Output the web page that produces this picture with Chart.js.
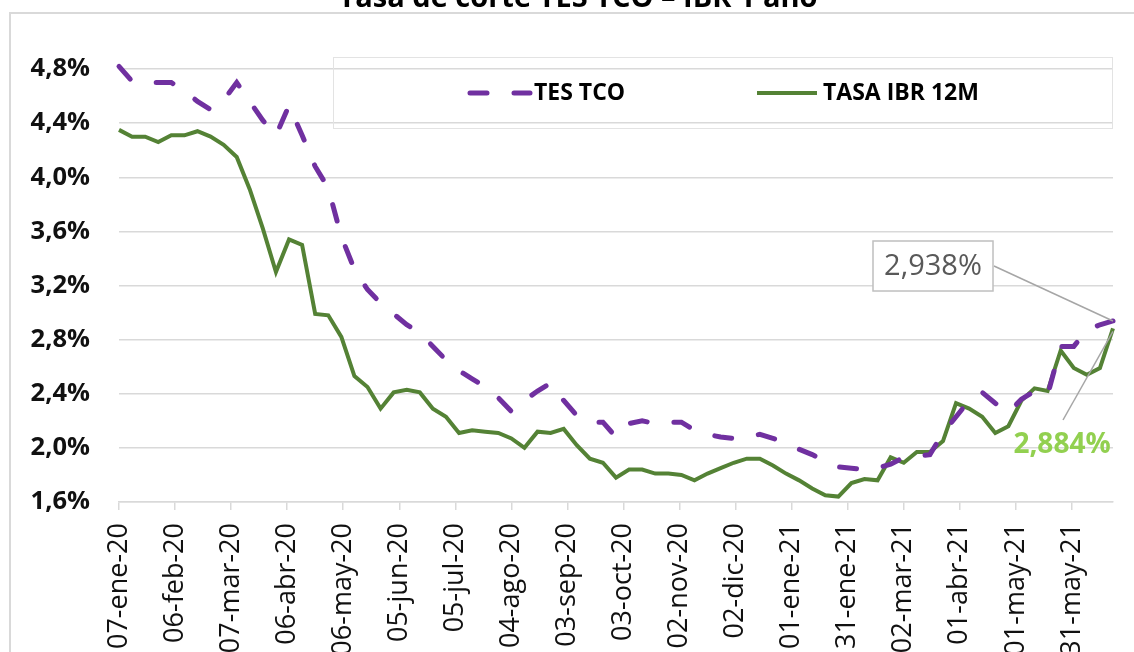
<!DOCTYPE html>
<html>
<head>
<meta charset="utf-8">
<script src="https://cdn.jsdelivr.net/npm/chart.js@4.4.1/dist/chart.umd.min.js"></script>
<style>
  html, body { margin: 0; padding: 0; background: #fff; overflow: hidden; }
</style>
</head>
<body>
<canvas id="myChart" width="1134" height="652"></canvas>
<script>
// weekly auction dates, starting on a Tuesday
const startDate = '2020-01-07';

const tesTco = [
  4.82, 4.71, 4.70, 4.70, 4.70, 4.64, 4.56, 4.50, 4.57, 4.70,
  4.56, 4.42, 4.31, 4.53, 4.31, 4.08, 3.92, 3.56, 3.32, 3.17,
  3.07, 2.99, 2.91, 2.85, 2.75, 2.65, 2.57, 2.51, 2.45, 2.37,
  2.27, 2.35, 2.42, 2.48, 2.35, 2.24, 2.19, 2.19, 2.08, 2.18,
  2.20, 2.18, 2.19, 2.19, 2.13, 2.10, 2.08, 2.07, 2.08, 2.10,
  2.07, 2.04, 1.99, 1.95, 1.90, 1.86, 1.85, 1.84, 1.85, 1.88,
  1.93, 1.94, 1.95, 2.11, 2.23, 2.35, 2.41, 2.33, 2.26, 2.36,
  2.42, 2.39, 2.75, 2.75, 2.87, 2.91, 2.938
];

const tasaIbr12m = [
  4.35, 4.30, 4.30, 4.26, 4.31, 4.31, 4.34, 4.30, 4.24, 4.15,
  3.91, 3.62, 3.30, 3.54, 3.50, 2.99, 2.98, 2.82, 2.53, 2.45,
  2.29, 2.41, 2.43, 2.41, 2.29, 2.23, 2.11, 2.13, 2.12, 2.11,
  2.07, 2.00, 2.12, 2.11, 2.14, 2.02, 1.92, 1.89, 1.78, 1.84,
  1.84, 1.81, 1.81, 1.80, 1.76, 1.81, 1.85, 1.89, 1.92, 1.92,
  1.87, 1.81, 1.76, 1.70, 1.65, 1.64, 1.74, 1.77, 1.76, 1.93,
  1.89, 1.97, 1.97, 2.05, 2.33, 2.29, 2.23, 2.11, 2.16, 2.35,
  2.44, 2.42, 2.72, 2.59, 2.54, 2.59, 2.884
];

// x ticks every 30 days from the start date
const xTickLabels = [
  '07-ene-20', '06-feb-20', '07-mar-20', '06-abr-20', '06-may-20', '05-jun-20',
  '05-jul-20', '04-ago-20', '03-sep-20', '03-oct-20', '02-nov-20', '02-dic-20',
  '01-ene-21', '31-ene-21', '02-mar-21', '01-abr-21', '01-may-21', '31-may-21'
];
const xTickDays = [0, 30, 60, 90, 120, 150, 180, 210, 240, 270, 300, 330, 360, 390, 420, 450, 480, 510];

const yTickValues = [1.6, 2.0, 2.4, 2.8, 3.2, 3.6, 4.0, 4.4, 4.8];
const yTickLabels = ['1,6%', '2,0%', '2,4%', '2,8%', '3,2%', '3,6%', '4,0%', '4,4%', '4,8%'];

const lastTesLabel = '2,938%';
const lastIbrLabel = '2,884%';

const PURPLE = '#7030a0';
const GREEN = '#548235';
const LIGHT_GREEN = '#92d050';
const GRID = '#d9d9d9';

const dayOfWeek = (i) => i * 7; // days since startDate

const overlay = {
    id: 'overlay',
    beforeDraw(chart) {
        const c = chart.ctx;
        c.save();
        c.fillStyle = '#fff';
        c.fillRect(0, 0, chart.width, chart.height);
        // outer frame
        c.strokeStyle = GRID;
        c.lineWidth = 2;
        c.beginPath();
        c.moveTo(10, chart.height);
        c.lineTo(10, 13);
        c.lineTo(chart.width, 13);
        c.stroke();
        // title (cut at the top edge)
        c.fillStyle = '#000';
        c.font = 'bold 29px "Open Sans"';
        c.textAlign = 'center';
        c.textBaseline = 'alphabetic';
        c.fillText('Tasa de corte TES TCO \u2013 IBR 1 a\u00f1o', 578, 7);
        c.restore();
    },
    afterDraw(chart) {
        const c = chart.ctx;
        c.save();
        // legend box
        c.strokeStyle = '#e3e3e3';
        c.lineWidth = 1;
        c.strokeRect(333.5, 57.5, 779, 71);
        const ly = 93;
        c.lineCap = 'round';
        c.strokeStyle = PURPLE;
        c.lineWidth = 5;
        c.setLineDash([17, 27]);
        c.beginPath(); c.moveTo(470, ly); c.lineTo(530, ly); c.stroke();
        c.setLineDash([]);
        c.strokeStyle = GREEN;
        c.lineWidth = 4;
        c.lineCap = 'butt';
        c.beginPath(); c.moveTo(757, ly); c.lineTo(817, ly); c.stroke();
        c.fillStyle = '#000';
        c.font = 'bold 23px "Open Sans"';
        c.textAlign = 'left';
        c.textBaseline = 'middle';
        c.fillText(chart.data.datasets[0].label, 534, ly);
        c.fillText(chart.data.datasets[1].label, 823, ly);

        // data labels for the last points
        const pTes = chart.getDatasetMeta(0).data[tesTco.length - 1];
        const pIbr = chart.getDatasetMeta(1).data[tasaIbr12m.length - 1];
        c.strokeStyle = '#a6a6a6';
        c.lineWidth = 1.5;
        c.beginPath(); c.moveTo(994, 266); c.lineTo(pTes.x, pTes.y); c.stroke();
        c.beginPath(); c.moveTo(1063, 420); c.lineTo(pIbr.x, pIbr.y + 3); c.stroke();

        c.fillStyle = '#fff';
        c.fillRect(873, 241, 120, 50);
        c.strokeStyle = '#bfbfbf';
        c.lineWidth = 1.5;
        c.strokeRect(873, 241, 120, 50);
        c.fillStyle = '#595959';
        c.font = '29px "Open Sans"';
        c.textAlign = 'center';
        c.textBaseline = 'middle';
        c.fillText(lastTesLabel, 933, 267);

        c.fillStyle = LIGHT_GREEN;
        c.font = 'bold 28px "Open Sans"';
        c.fillText(lastIbrLabel, 1062, 445);
        c.restore();
    }
};

const ctx = document.querySelector('#myChart').getContext('2d');
const config = {
    type: 'line',
    data: {
        datasets: [{
            label: 'TES TCO',
            data: tesTco.map((v, i) => ({ x: dayOfWeek(i), y: v })),
            borderColor: PURPLE,
            borderWidth: 5,
            borderDash: [17, 27],
            borderCapStyle: 'round',
            pointRadius: 0,
            tension: 0,
            clip: false
        }, {
            label: 'TASA IBR 12M',
            data: tasaIbr12m.map((v, i) => ({ x: dayOfWeek(i), y: v })),
            borderColor: GREEN,
            borderWidth: 4,
            pointRadius: 0,
            tension: 0,
            clip: false
        }]
    },
    options: {
        responsive: false,
        animation: false,
        layout: { padding: { left: 0, top: 69, right: 21, bottom: 0 } },
        plugins: {
            legend: { display: false },
            tooltip: { enabled: false }
        },
        scales: {
            x: {
                type: 'linear',
                min: 0,
                max: dayOfWeek(tesTco.length - 1),
                afterBuildTicks: (scale) => { scale.ticks = xTickDays.map(d => ({ value: d })); },
                afterFit: (scale) => { scale.height = 150; },
                grid: {
                    drawOnChartArea: false,
                    drawTicks: true,
                    tickLength: 8,
                    color: GRID,
                    lineWidth: 1.5
                },
                border: { display: true, color: GRID, width: 1.5 },
                ticks: {
                    autoSkip: false,
                    maxRotation: 90,
                    minRotation: 90,
                    padding: 13,
                    color: '#111',
                    font: { family: 'Open Sans', size: 27 },
                    callback: (v, i) => xTickLabels[i]
                }
            },
            y: {
                min: 1.6,
                max: 4.8,
                afterBuildTicks: (scale) => { scale.ticks = yTickValues.map(v => ({ value: v })); },
                afterFit: (scale) => { scale.width = 119; },
                grid: {
                    drawTicks: false,
                    color: GRID,
                    lineWidth: 1.5
                },
                border: { display: false },
                ticks: {
                    padding: 29,
                    color: '#111',
                    font: { family: 'Open Sans', size: 25.5, weight: 'bold' },
                    callback: (v, i) => yTickLabels[i]
                }
            }
        }
    },
    plugins: [overlay]
};
new Chart(ctx, config);
</script>
</body>
</html>
